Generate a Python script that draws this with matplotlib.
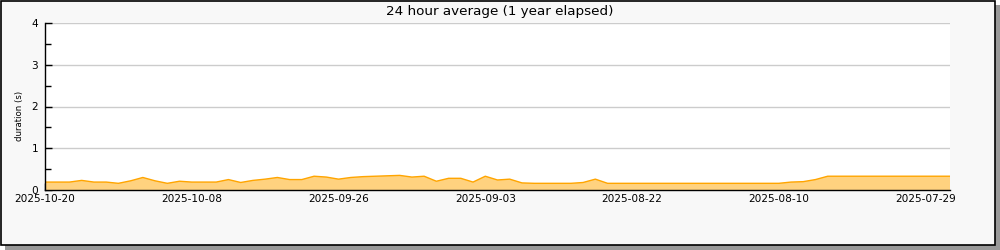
import matplotlib
matplotlib.use("Agg")
import matplotlib.pyplot as plt
from matplotlib.patches import Rectangle
from matplotlib.ticker import MultipleLocator, FixedLocator
import numpy as np

# 24 hour average duration (s), newest first
durations = [
    0.19, 0.19, 0.19, 0.23, 0.19, 0.19, 0.16, 0.22, 0.30, 0.22,
    0.16, 0.21, 0.19, 0.19, 0.19, 0.25, 0.18, 0.23, 0.26, 0.30,
    0.25, 0.25, 0.33, 0.31, 0.26, 0.30, 0.32, 0.33, 0.34, 0.35,
    0.31, 0.33, 0.21, 0.28, 0.28, 0.19, 0.33, 0.24, 0.26, 0.17,
    0.16, 0.16, 0.16, 0.16, 0.18, 0.26, 0.16, 0.16, 0.16, 0.16,
    0.16, 0.16, 0.16, 0.16, 0.16, 0.16, 0.16, 0.16, 0.16, 0.16,
    0.16, 0.19, 0.20, 0.25, 0.33, 0.33, 0.33, 0.33, 0.33, 0.33,
    0.33, 0.33, 0.33, 0.33, 0.33,
]
tick_pos = [0, 12, 24, 36, 48, 60, 72]
tick_labels = ["2025-10-20", "2025-10-08", "2025-09-26", "2025-09-03",
               "2025-08-22", "2025-08-10", "2025-07-29"]

x = np.arange(len(durations))

fig = plt.figure(figsize=(10, 2.5), dpi=100, facecolor="white")

# shadow + framed background
fig.patches.append(Rectangle((5 / 1000, 0), 995 / 1000, 245 / 250,
                             transform=fig.transFigure, facecolor="#999999",
                             edgecolor="none", zorder=0))
fig.patches.append(Rectangle((0.5 / 1000, 5 / 250), 994 / 1000, 244.5 / 250,
                             transform=fig.transFigure, facecolor="#f8f8f8",
                             edgecolor="black", linewidth=1.2, zorder=1))

ax = fig.add_axes([0.045, 0.24, 0.905, 0.668], facecolor="white")
ax.set_zorder(2)

ax.fill_between(x, durations, 0, facecolor="#ffd27f", edgecolor="none", zorder=2)
ax.plot(x, durations, color="#ffa500", linewidth=1.0, zorder=3)

ax.set_xlim(0, len(durations) - 1)
ax.set_ylim(0, 4)

ax.xaxis.set_major_locator(FixedLocator(tick_pos))
ax.set_xticklabels(tick_labels)
ax.xaxis.set_minor_locator(FixedLocator([p + 6 for p in tick_pos[:-1]]))
ax.yaxis.set_major_locator(MultipleLocator(1))
ax.yaxis.set_minor_locator(MultipleLocator(0.5))

ax.tick_params(axis="both", which="both", direction="in", colors="black",
               labelsize=7.6, width=1)
ax.tick_params(axis="both", which="major", length=5)
ax.tick_params(axis="both", which="minor", length=4)
ax.tick_params(axis="x", pad=3)
ax.tick_params(axis="y", pad=5)

ax.grid(axis="y", which="major", color="#cccccc", linewidth=1)
ax.set_axisbelow(True)
for s in ("top", "right"):
    ax.spines[s].set_visible(False)
for s in ("left", "bottom"):
    ax.spines[s].set_linewidth(1)
    ax.spines[s].set_zorder(4)

ax.set_ylabel("duration (s)", fontsize=6.2, va="center")
ax.yaxis.set_label_coords(-0.028, 0.446)
fig.text(0.5, 1 - 11 / 250, "24 hour average (1 year elapsed)",
         ha="center", va="center", fontsize=9.7, zorder=5)

fig.savefig("out.png", dpi=100, facecolor="white")
